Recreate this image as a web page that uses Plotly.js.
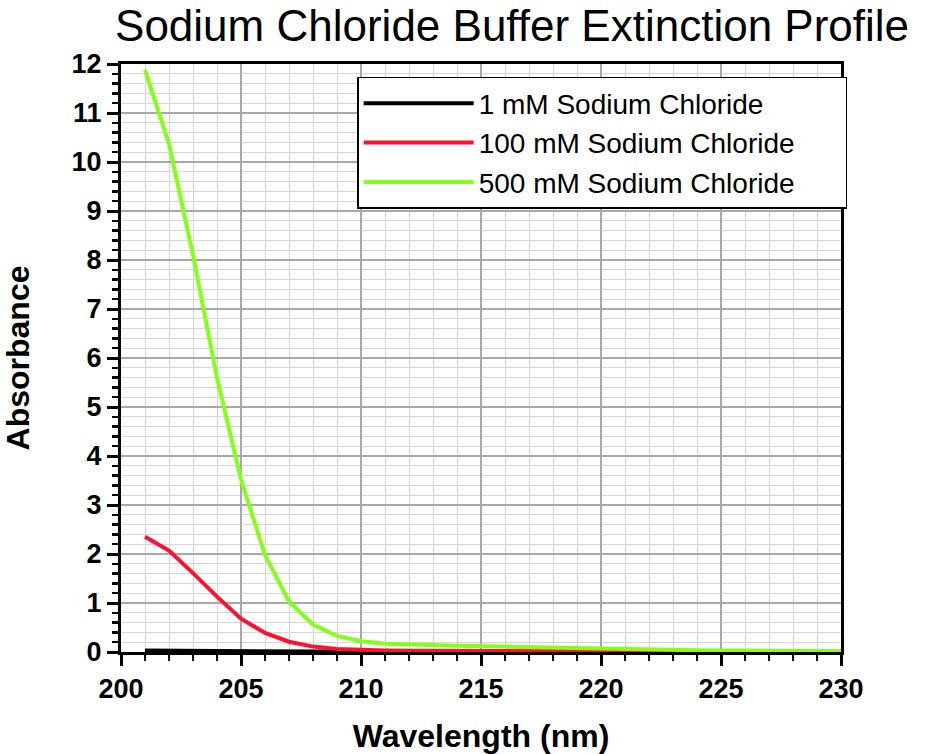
<!DOCTYPE html>
<html>
<head>
<meta charset="utf-8">
<script src="https://cdn.plot.ly/plotly-3.0.1.min.js"></script>
<style>html,body{margin:0;padding:0;background:#fff;}#chart{width:926px;height:754px;}</style>
</head>
<body>
<div id="chart"></div>
<script>
const wavelength = [201,202,203,204,205,206,207,208,209,210,211,212,213,214,215,216,217,218,219,220,221,222,223,224,225,226,227,228,229,230];
const nacl1mM = [0.03,0.03,0.025,0.02,0.018,0.015,0.012,0.01,0.009,0.008,0.007,0.006,0.005,0.005,0.004,0.004,0.003,0.003,0.003,0.002,0.002,0.002,0.002,0.001,0.001,0.001,0.001,0.001,0.001,0.001];
const nacl100mM = [2.35,2.07,1.61,1.13,0.68,0.39,0.21,0.11,0.06,0.04,0.03,0.025,0.022,0.02,0.018,0.016,0.014,0.012,0.011,0.01,0.009,0.008,0.007,0.006,0.006,0.005,0.005,0.004,0.004,0.004];
const nacl500mM = [11.88,10.37,8.1,5.6,3.52,1.98,1.03,0.56,0.33,0.22,0.17,0.15,0.14,0.13,0.12,0.11,0.09,0.08,0.07,0.055,0.05,0.045,0.04,0.035,0.03,0.027,0.024,0.02,0.018,0.015];
const seriesNames = ['1 mM Sodium Chloride','100 mM Sodium Chloride','500 mM Sodium Chloride'];
const seriesColors = ['#000000','#ff1030','#84ff1a'];

const ys = [nacl1mM, nacl100mM, nacl500mM];
const traces = ys.map((y,i)=>({
  x: wavelength, y: y, type:'scatter', mode:'lines', name: seriesNames[i],
  line:{color: seriesColors[i], width:4}
}));

const FONT = 'Liberation Sans, Arial, sans-serif';
const layout = {
  width:926, height:754,
  margin:{l:121, r:85, t:64, b:102, autoexpand:false},
  paper_bgcolor:'#fff', plot_bgcolor:'#fff',
  font:{family:FONT, color:'#000'},
  title:{text:'Sodium Chloride Buffer Extinction Profile', font:{size:44, family:FONT}, x:0.553, xref:'container', xanchor:'center', y:0.986, yref:'container', yanchor:'top'},
  showlegend:true,
  legend:{x:0.328, xanchor:'left', y:0.978, yanchor:'top', bgcolor:'#fff', bordercolor:'#000', borderwidth:1.5,
    orientation:'h', entrywidth:362, itemwidth:110, tracegroupgap:0,
    font:{size:28, family:FONT}},
  xaxis:{range:[200,230], dtick:5, tick0:200, showline:true, linecolor:'#000', linewidth:3, mirror:true,
    ticks:'outside', ticklen:11, tickwidth:3, tickcolor:'#000',
    tickfont:{size:27, family:FONT, weight:'bold'},
    showgrid:true, gridcolor:'#a8a8a8', gridwidth:1.3, zeroline:false,
    minor:{dtick:1, ticks:'outside', ticklen:6, tickwidth:2.5, tickcolor:'#000', showgrid:true, gridcolor:'#d2d2d2', gridwidth:1},
    title:{text:'Wavelength (nm)', font:{size:32, weight:'bold', family:FONT}, standoff:25}},
  yaxis:{range:[0,12], dtick:1, tick0:0, showline:true, linecolor:'#000', linewidth:3, mirror:true,
    ticks:'outside', ticklen:11, tickwidth:3, tickcolor:'#000',
    tickfont:{size:27, family:FONT, weight:'bold'},
    showgrid:true, gridcolor:'#a8a8a8', gridwidth:1.3, zeroline:false,
    minor:{dtick:0.2, ticks:'outside', ticklen:6, tickwidth:2.5, tickcolor:'#000', showgrid:true, gridcolor:'#d6d6d6', gridwidth:1},
    title:{text:'Absorbance', font:{size:32, weight:'bold', family:FONT}, standoff:44}}
};
Plotly.newPlot('chart', traces, layout, {staticPlot:true, displayModeBar:false});
</script>
</body>
</html>
